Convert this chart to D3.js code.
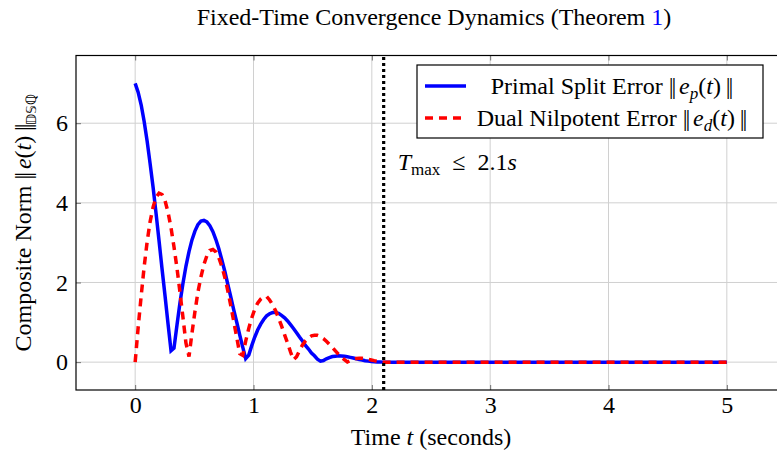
<!DOCTYPE html>
<html>
<head>
<meta charset="utf-8">
<script src="https://cdn.jsdelivr.net/npm/d3@7"></script>
<style>
  body { margin: 0; background: #fff; }
  text { font-family: "Liberation Serif", "Times New Roman", serif; fill: #000; }
</style>
</head>
<body>
<svg id="chart" width="777" height="453"></svg>
<script>
/* Fixed-time convergence chart */

//** data **//
var time = [0, 0.025, 0.051, 0.076, 0.101, 0.126, 0.152, 0.177, 0.202, 0.227,
            0.253, 0.278, 0.303, 0.328, 0.354, 0.379, 0.404, 0.429, 0.455, 0.480,
            0.505, 0.530, 0.556, 0.581, 0.606, 0.631, 0.657, 0.682, 0.707, 0.732,
            0.758, 0.783, 0.808, 0.833, 0.859, 0.884, 0.909, 0.934, 0.960, 0.985,
            1.010, 1.035, 1.061, 1.086, 1.111, 1.136, 1.162, 1.187, 1.212, 1.237,
            1.263, 1.288, 1.313, 1.338, 1.364, 1.389, 1.414, 1.439, 1.465, 1.490,
            1.515, 1.540, 1.566, 1.591, 1.616, 1.641, 1.667, 1.692, 1.717, 1.742,
            1.768, 1.793, 1.818, 1.843, 1.869, 1.894, 1.919, 1.944, 1.970, 1.995,
            2.020, 2.045, 2.071, 2.096, 2.121, 5];

var primal = [7, 6.778, 6.456, 6.043, 5.551, 4.991, 4.379, 3.724, 3.042, 2.344,
              1.647, 0.954, 0.286, 0.351, 0.946, 1.495, 1.980, 2.406, 2.776, 3.069,
              3.291, 3.450, 3.543, 3.558, 3.522, 3.424, 3.274, 3.078, 2.847, 2.571,
              2.276, 1.951, 1.640, 1.314, 0.995, 0.677, 0.377, 0.089, 0.177, 0.414,
              0.625, 0.805, 0.954, 1.070, 1.161, 1.215, 1.246, 1.248, 1.225, 1.176,
              1.113, 1.033, 0.941, 0.845, 0.739, 0.631, 0.529, 0.419, 0.330, 0.228,
              0.158, 0.074, 0.024, 0.041, 0.084, 0.115, 0.140, 0.150, 0.159, 0.154,
              0.147, 0.134, 0.120, 0.102, 0.085, 0.067, 0.051, 0.037, 0.025, 0.015,
              0.008, 0.003, 0.001, 0, 0, 0];

var dual = [0, 0.863, 1.669, 2.394, 3.016, 3.523, 3.899, 4.141, 4.244, 4.210,
            4.047, 3.762, 3.373, 2.896, 2.346, 1.746, 1.120, 0.483, 0.138, 0.730,
            1.263, 1.753, 2.141, 2.451, 2.672, 2.803, 2.829, 2.770, 2.625, 2.408,
            2.127, 1.790, 1.420, 1.022, 0.612, 0.212, 0.170, 0.526, 0.848, 1.110,
            1.324, 1.483, 1.583, 1.640, 1.650, 1.560, 1.437, 1.288, 1.105, 0.909,
            0.686, 0.479, 0.254, 0.061, 0.136, 0.290, 0.431, 0.534, 0.609, 0.660,
            0.673, 0.672, 0.641, 0.591, 0.523, 0.449, 0.367, 0.283, 0.202, 0.127,
            0.060, 0.004, 0.039, 0.071, 0.090, 0.098, 0.096, 0.087, 0.073, 0.055,
            0.037, 0.021, 0.008, 0, 0, 0];

var xTicks = [0, 1, 2, 3, 4, 5];
var yTicks = [0, 2, 4, 6];
var tMax = 2.1;

//*Chart code*//
var svg = d3.select("#chart"),
    fontSize = 24,
    plotLeft = 76, plotRight = 786, plotTop = 55.5, plotBottom = 390;

var x = d3.scaleLinear().domain([-0.5, 5.5]).range([plotLeft, plotRight]);
var y = d3.scaleLinear().domain([-0.7, 7.7]).range([plotBottom, plotTop]);

// grid
var grid = svg.append("g").attr("class", "grid");
grid.selectAll("line.gx").data(xTicks).enter().append("line")
    .attr("class", "gx")
    .attr("x1", function(d) { return x(d); })
    .attr("x2", function(d) { return x(d); })
    .attr("y1", plotBottom).attr("y2", plotTop)
    .attr("stroke", "#d0d0d0").attr("stroke-width", 1);
grid.selectAll("line.gy").data(yTicks).enter().append("line")
    .attr("class", "gy")
    .attr("y1", function(d) { return y(d); })
    .attr("y2", function(d) { return y(d); })
    .attr("x1", plotLeft).attr("x2", plotRight)
    .attr("stroke", "#d0d0d0").attr("stroke-width", 1);

// axes (ticks point inward)
svg.append("g")
    .attr("class", "x axis")
    .attr("transform", "translate(0," + plotBottom + ")")
    .call(d3.axisBottom(x).tickValues(xTicks).tickSize(-5).tickPadding(6).tickFormat(d3.format("d")));

svg.append("g")
    .attr("class", "x axis top")
    .attr("transform", "translate(0," + plotTop + ")")
    .call(d3.axisTop(x).tickValues(xTicks).tickSize(-5).tickFormat(""));

svg.append("g")
    .attr("class", "y axis")
    .attr("transform", "translate(" + plotLeft + ",0)")
    .call(d3.axisLeft(y).tickValues(yTicks).tickSize(-5).tickPadding(8).tickFormat(d3.format("d")));

svg.selectAll(".axis .domain").remove();
svg.selectAll(".axis .tick line").attr("stroke", "#707070").attr("stroke-width", 1);
svg.selectAll(".axis text")
    .style("font-family", '"Liberation Serif", serif')
    .style("font-size", fontSize + "px")
    .attr("fill", "#000");

// frame
svg.append("rect")
    .attr("x", plotLeft).attr("y", plotTop)
    .attr("width", plotRight - plotLeft).attr("height", plotBottom - plotTop)
    .attr("fill", "none").attr("stroke", "#000").attr("stroke-width", 1.2);

// curves
var line = d3.line()
    .x(function(d) { return x(d.t); })
    .y(function(d) { return y(d.v); });

var primalData = time.map(function(t, i) { return {t: t, v: primal[i]}; });
var dualData = time.map(function(t, i) { return {t: t, v: dual[i]}; });

svg.append("path")
    .datum(primalData)
    .attr("d", line)
    .attr("fill", "none")
    .attr("stroke", "#0000ff")
    .attr("stroke-width", 3.5)
    .attr("stroke-linejoin", "miter");

svg.append("path")
    .datum(dualData)
    .attr("d", line)
    .attr("fill", "none")
    .attr("stroke", "#ff0000")
    .attr("stroke-width", 3.5)
    .attr("stroke-dasharray", "8,6")
    .attr("stroke-linejoin", "miter");

// T max marker
svg.append("line")
    .attr("x1", x(tMax)).attr("x2", x(tMax))
    .attr("y1", plotBottom).attr("y2", plotTop)
    .attr("stroke", "#000")
    .attr("stroke-width", 3.2)
    .attr("stroke-dasharray", "3,3");

var note = svg.append("text")
    .attr("x", x(tMax) + 14)
    .attr("y", 170)
    .style("font-size", fontSize + "px");
note.append("tspan").style("font-style", "italic").text("T");
note.append("tspan").attr("dy", 5).style("font-size", "17px").text("max");
note.append("tspan").attr("dy", -5).text("\u2002\u2264\u20022.1");
note.append("tspan").style("font-style", "italic").text("s");

// helper for ||e_x(t)|| pieces
function bars(sel) {
  sel.append("tspan").style("letter-spacing", "-2px").text("||");
  sel.append("tspan").text("\u2009");
}
function normText(sel, sub) {
  bars(sel);
  sel.append("tspan").style("font-style", "italic").text("e");
  if (sub) {
    sel.append("tspan").attr("dy", 5).style("font-style", "italic").style("font-size", "17px").text(sub);
    sel.append("tspan").attr("dy", -5).text("(");
  } else {
    sel.append("tspan").text("(");
  }
  sel.append("tspan").style("font-style", "italic").text("t");
  sel.append("tspan").text(")\u2009");
  sel.append("tspan").style("letter-spacing", "-2px").text("||");
}

// legend
var legend = svg.append("g").attr("class", "legend");
legend.append("rect")
    .attr("x", 417).attr("y", 65)
    .attr("width", 346).attr("height", 73)
    .attr("fill", "#fff").attr("stroke", "#000").attr("stroke-width", 1.2);

var legendItems = [
  {name: "Primal Split Error ", sub: "p", color: "#0000ff", dash: null, cy: 86},
  {name: "Dual Nilpotent Error ", sub: "d", color: "#ff0000", dash: "8,6", cy: 118}
];

legendItems.forEach(function(d) {
  legend.append("line")
      .attr("x1", 425).attr("x2", 466)
      .attr("y1", d.cy).attr("y2", d.cy)
      .attr("stroke", d.color).attr("stroke-width", 3.5)
      .attr("stroke-dasharray", d.dash);
  var lt = legend.append("text")
      .attr("x", 611).attr("y", d.cy + 8)
      .attr("text-anchor", "middle")
      .style("font-size", fontSize + "px");
  lt.append("tspan").text(d.name);
  normText(lt, d.sub);
});

// title
var title = svg.append("text")
    .attr("x", 434)
    .attr("y", 25)
    .attr("text-anchor", "middle")
    .style("font-size", fontSize + "px");
title.append("tspan").text("Fixed-Time Convergence Dynamics (Theorem ");
title.append("tspan").style("fill", "#0000ff").text("1");
title.append("tspan").text(")");

// x label
var xLabel = svg.append("text")
    .attr("x", (plotLeft + plotRight) / 2)
    .attr("y", 445)
    .attr("text-anchor", "middle")
    .style("font-size", fontSize + "px");
xLabel.append("tspan").text("Time ");
xLabel.append("tspan").style("font-style", "italic").text("t");
xLabel.append("tspan").text(" (seconds)");

// y label
var yLabel = svg.append("text")
    .attr("transform", "translate(31," + ((plotTop + plotBottom) / 2) + ") rotate(-90)")
    .attr("text-anchor", "middle")
    .style("font-size", fontSize + "px");
yLabel.append("tspan").text("Composite Norm ");
normText(yLabel, null);
yLabel.append("tspan").attr("dy", 5)
    .style("font-size", "14px")
    .style("font-family", '"DejaVu Sans", sans-serif')
    .text("\uD835\uDD3B\uD835\uDD4A\u211A");
</script>
</body>
</html>
